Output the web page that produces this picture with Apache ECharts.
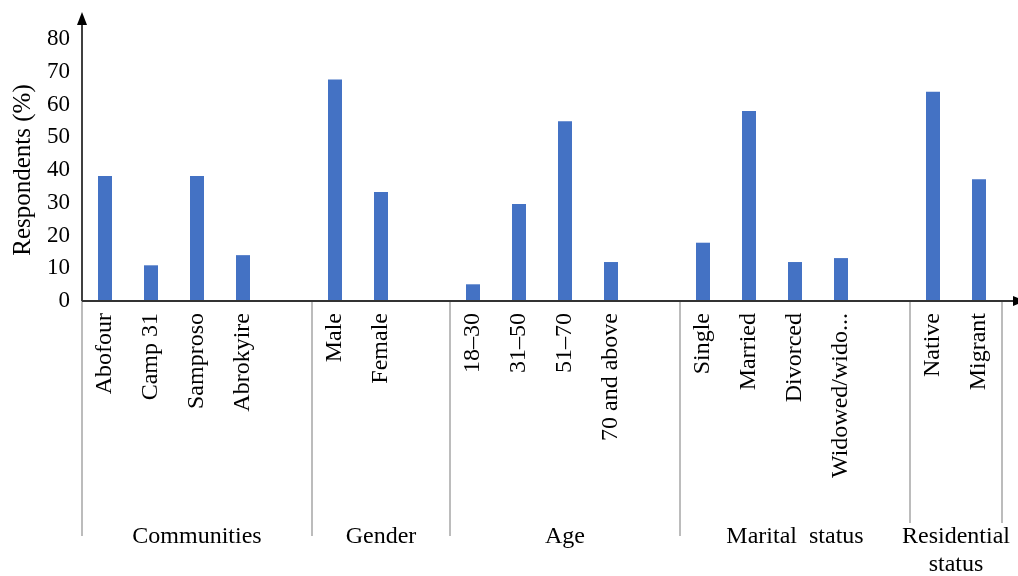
<!DOCTYPE html>
<html>
<head>
<meta charset="utf-8">
<script src="https://cdn.jsdelivr.net/npm/echarts@6/dist/echarts.min.js"></script>
<style>
  html, body { margin: 0; padding: 0; background: #fff; }
  #chart { width: 1018px; height: 576px; }
</style>
</head>
<body>
<div id="chart"></div>
<script>
// Respondent profile chart
// empty strings are the gaps that end each group
const categories = ['Abofour', 'Camp 31', 'Samproso', 'Abrokyire', '',
  'Male', 'Female', '',
  '18\u201330', '31\u201350', '51\u201370', '70 and above', '',
  'Single', 'Married', 'Divorced', 'Widowed/wido...', '',
  'Native', 'Migrant'];
const respondents = [38.2, 10.9, 38.2, 14.0, null,
  67.6, 33.3, null,
  5.1, 29.6, 54.9, 11.9, null,
  17.8, 58.0, 11.9, 13.1, null,
  63.9, 37.2];
const groupNames = ['Communities', 'Gender', 'Age', 'Marital  status', 'Residential\nstatus'];
const yTicks = [0, 10, 20, 30, 40, 50, 60, 70, 80];

const font = '"Liberation Serif", "Times New Roman", serif';

var chart = echarts.init(document.getElementById('chart'));

var option = {
  animation: false,
  backgroundColor: '#fff',
  grid: { left: 82, right: 16, top: 39, bottom: 275 },
  xAxis: {
    type: 'category',
    data: categories,
    axisLine: { show: false },
    axisTick: { show: false },
    axisLabel: {
      interval: 0,
      rotate: 90,
      margin: 12,
      color: '#000',
      fontSize: 24,
      fontFamily: font
    }
  },
  yAxis: {
    type: 'value',
    min: yTicks[0],
    max: yTicks[yTicks.length - 1],
    interval: yTicks[1] - yTicks[0],
    name: 'Respondents (%)',
    nameLocation: 'middle',
    nameGap: 46,
    nameTextStyle: { color: '#000', fontSize: 25, fontFamily: font },
    axisLine: { show: false },
    axisTick: { show: false },
    splitLine: { show: false },
    axisLabel: { margin: 12, color: '#000', fontSize: 23, fontFamily: font }
  },
  series: [{
    type: 'bar',
    data: respondents,
    barWidth: 14,
    itemStyle: { color: '#4472C4' }
  }]
};
chart.setOption(option);

// axis lines, arrows, group separators and group labels from the chart's own scales
function px(i) { return chart.convertToPixel({ xAxisIndex: 0 }, i); }
var bw = px(1) - px(0);
var xLeft = px(0) - bw / 2;
var xRight = px(categories.length - 1) + bw / 2;
var yZero = chart.convertToPixel({ yAxisIndex: 0 }, yTicks[0]);
var yTop = chart.convertToPixel({ yAxisIndex: 0 }, yTicks[yTicks.length - 1]);
var yBottom = yZero + 235;

// group spans: a group ends at a blank slot or at the last slot
var groups = [];
var start = 0;
for (var i = 0; i < categories.length; i++) {
  if (categories[i] === '' || i === categories.length - 1) {
    groups.push([start, i]);
    start = i + 1;
  }
}

var graphics = [];
var edges = [xLeft];
groups.forEach(function (g, k) {
  var a = px(g[0]) - bw / 2;
  var b = px(g[1]) + bw / 2;
  edges.push(b);
  graphics.push({
    type: 'text',
    z: 10,
    style: {
      text: groupNames[k],
      x: (a + b) / 2,
      y: yBottom - 13,
      align: 'center',
      verticalAlign: 'top',
      lineHeight: 28,
      fill: '#000',
      backgroundColor: '#fff',
      font: '24px ' + font
    }
  });
});
edges.forEach(function (x) {
  graphics.push({
    type: 'line',
    z: 5,
    shape: { x1: x, y1: yZero, x2: x, y2: yBottom },
    style: { stroke: '#a6a6a6', lineWidth: 1.5 }
  });
});

// y axis with arrow
graphics.push({
  type: 'line', z: 20,
  shape: { x1: xLeft, y1: yZero, x2: xLeft, y2: yTop - 16 },
  style: { stroke: '#000', lineWidth: 1.5 }
});
graphics.push({
  type: 'polygon', z: 20,
  shape: { points: [[xLeft, yTop - 27], [xLeft - 5, yTop - 14], [xLeft + 5, yTop - 14]] },
  style: { fill: '#000' }
});
// x axis with arrow
graphics.push({
  type: 'line', z: 20,
  shape: { x1: xLeft, y1: yZero, x2: xRight + 12, y2: yZero },
  style: { stroke: '#333', lineWidth: 2 }
});
graphics.push({
  type: 'polygon', z: 20,
  shape: { points: [[xRight + 24, yZero], [xRight + 11, yZero - 5], [xRight + 11, yZero + 5]] },
  style: { fill: '#000' }
});

chart.setOption({ graphic: graphics });
</script>
</body>
</html>
